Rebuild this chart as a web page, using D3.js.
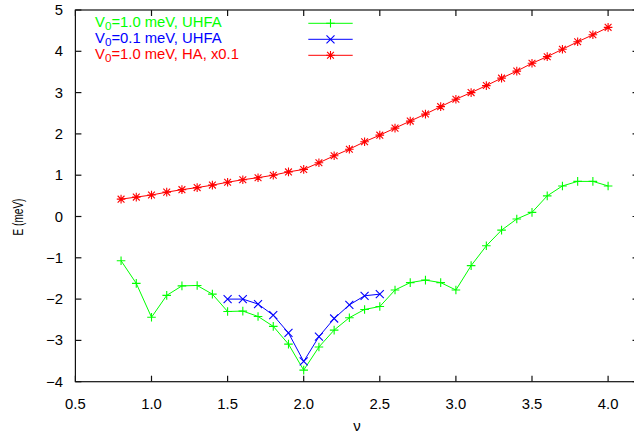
<!DOCTYPE html>
<html>
<head>
<meta charset="utf-8">
<script src="https://cdn.jsdelivr.net/npm/d3@7"></script>
<style>
  html, body { margin: 0; padding: 0; background: #fff; }
  svg { display: block; }
  text { font-family: "Liberation Sans", Arial, sans-serif; }
</style>
</head>
<body>
<svg id="chart" width="634" height="433"></svg>
<script>
// Filling factor values shared by the curves
const nuHA = [0.8,0.9,1.0,1.1,1.2,1.3,1.4,1.5,1.6,1.7,1.8,1.9,2.0,2.1,2.2,2.3,2.4,
              2.5,2.6,2.7,2.8,2.9,3.0,3.1,3.2,3.3,3.4,3.5,3.6,3.7,3.8,3.9,4.0];
const nuUHFA1 = nuHA;
const nuUHFA01 = [1.5,1.6,1.7,1.8,1.9,2.0,2.1,2.2,2.3,2.4,2.5];

// Energies (meV)
const eUHFA1 = [-1.07,-1.62,-2.44,-1.91,-1.68,-1.67,-1.88,-2.30,-2.29,-2.42,-2.66,-3.09,-3.72,
                -3.16,-2.75,-2.45,-2.25,-2.18,-1.78,-1.60,-1.54,-1.60,-1.78,-1.19,-0.71,-0.33,
                -0.06,0.10,0.50,0.74,0.85,0.85,0.74];
const eUHFA01 = [-2.00,-2.00,-2.12,-2.39,-2.82,-3.51,-2.91,-2.47,-2.14,-1.92,-1.88];
const eHA = [0.42,0.47,0.52,0.59,0.65,0.70,0.76,0.83,0.89,0.94,1.00,1.08,1.14,1.30,1.47,1.63,1.81,
             1.97,2.14,2.31,2.48,2.66,2.84,3.00,3.17,3.35,3.52,3.71,3.87,4.05,4.23,4.40,4.58];

const xTicks = [0.5,1.0,1.5,2.0,2.5,3.0,3.5,4.0];
const yTicks = [-4,-3,-2,-1,0,1,2,3,4,5];

const seriesLabels = ["1.0 meV, UHFA", "0.1 meV, UHFA", "1.0 meV, HA, x0.1"];
const seriesColors = ["#00ff00", "#0000ff", "#ff0000"];
const seriesMarkers = ["plus", "cross", "star"];

const series = [
  { nu: nuUHFA1, e: eUHFA1 },
  { nu: nuUHFA01, e: eUHFA01 },
  { nu: nuHA, e: eHA }
];

const svg = d3.select("#chart");
const plotL = 75.4, plotT = 10, plotB = 381.7;
const x = d3.scaleLinear().domain([0.5, 4.2]).range([plotL, plotL + 3.7 * 152.2]);
const y = d3.scaleLinear().domain([-4, 5]).range([plotB, plotT]);
const plotR = x(4.2);
const sx = 1.06;   // horizontal text stretch
const fs = 14;
const tickLen = 6;
const axisColor = "#111";

// Border
svg.append("rect")
  .attr("x", plotL).attr("y", plotT)
  .attr("width", plotR - plotL).attr("height", plotB - plotT)
  .attr("fill", "none").attr("stroke", axisColor).attr("stroke-width", 1.2);

// Ticks (mirrored on all sides)
const tickG = svg.append("g").attr("stroke", axisColor).attr("stroke-width", 1.2);
xTicks.forEach(v => {
  tickG.append("line").attr("x1", x(v)).attr("x2", x(v)).attr("y1", plotB).attr("y2", plotB - tickLen);
  tickG.append("line").attr("x1", x(v)).attr("x2", x(v)).attr("y1", plotT).attr("y2", plotT + tickLen);
});
yTicks.forEach(v => {
  tickG.append("line").attr("x1", plotL).attr("x2", plotL + tickLen).attr("y1", y(v)).attr("y2", y(v));
  tickG.append("line").attr("x1", plotR).attr("x2", plotR - tickLen).attr("y1", y(v)).attr("y2", y(v));
});

function stretchedText(g, tx, ty, str, anchor, size, fill) {
  return g.append("text")
    .attr("transform", `translate(${tx},${ty}) scale(${sx},1)`)
    .attr("text-anchor", anchor)
    .attr("font-size", size)
    .attr("fill", fill)
    .text(str);
}

const labelG = svg.append("g");
xTicks.forEach(v => stretchedText(labelG, x(v), 408.5, d3.format(".1f")(v), "middle", fs, "#000"));
yTicks.forEach(v => stretchedText(labelG, 63, y(v) + 5, d3.format("d")(v), "end", fs, "#000"));

// Axis titles
svg.append("text")
  .attr("transform", "translate(22.5,217) rotate(-90) scale(0.72,1)")
  .attr("text-anchor", "middle").attr("font-size", fs).attr("fill", "#000")
  .text("E (meV)");
svg.append("text")
  .attr("x", 357).attr("y", 431)
  .attr("text-anchor", "middle").attr("font-size", 15).attr("fill", "#000")
  .attr("font-family", "'DejaVu Serif', 'Liberation Serif', serif")
  .text("ν");

// Point markers
function drawMarker(g, cx, cy, type, color) {
  const s = 4.3;
  const path = d3.path();
  if (type === "plus" || type === "star") {
    path.moveTo(cx - s, cy); path.lineTo(cx + s, cy);
    path.moveTo(cx, cy - s); path.lineTo(cx, cy + s);
  }
  if (type === "cross" || type === "star") {
    const d = type === "star" ? 3.4 : 4.0;
    path.moveTo(cx - d, cy - d); path.lineTo(cx + d, cy + d);
    path.moveTo(cx - d, cy + d); path.lineTo(cx + d, cy - d);
  }
  g.append("path").attr("d", path.toString())
    .attr("stroke", color).attr("stroke-width", 1.1).attr("fill", "none");
}

const line = d3.line().x(d => x(d[0])).y(d => y(d[1]));

series.forEach((s, i) => {
  const pts = s.nu.map((n, k) => [n, s.e[k]]);
  const g = svg.append("g");
  g.append("path").attr("d", line(pts))
    .attr("fill", "none").attr("stroke", seriesColors[i]).attr("stroke-width", 1);
  pts.forEach(p => drawMarker(g, x(p[0]), y(p[1]), seriesMarkers[i], seriesColors[i]));
});

// Legend
const legendG = svg.append("g");
seriesLabels.forEach((lab, i) => {
  const base = 26.7 + i * 16;
  const t = legendG.append("text")
    .attr("transform", `translate(95,${base}) scale(${sx},1)`)
    .attr("font-size", fs).attr("fill", seriesColors[i]);
  t.append("tspan").text("V");
  t.append("tspan").attr("font-size", 11).attr("dy", 3.5).text("0");
  t.append("tspan").attr("dy", -3.5).text("=" + lab);
  const ly = base - 3.4;
  legendG.append("line").attr("x1", 308.3).attr("x2", 352.7).attr("y1", ly).attr("y2", ly)
    .attr("stroke", seriesColors[i]).attr("stroke-width", 1);
  drawMarker(legendG, 330.5, ly, seriesMarkers[i], seriesColors[i]);
});
</script>
</body>
</html>
